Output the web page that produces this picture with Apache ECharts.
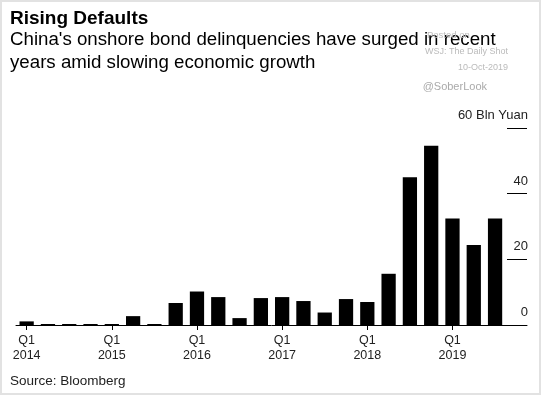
<!DOCTYPE html>
<html>
<head>
<meta charset="utf-8">
<script src="https://cdn.jsdelivr.net/npm/echarts@6/dist/echarts.min.js"></script>
<style>
html,body{margin:0;padding:0;background:#fff;}
#c{width:541px;height:395px;}
</style>
</head>
<body>
<div id="c"></div>
<script>
var quarters = ["Q1 2014","Q2 2014","Q3 2014","Q4 2014","Q1 2015","Q2 2015","Q3 2015","Q4 2015",
  "Q1 2016","Q2 2016","Q3 2016","Q4 2016","Q1 2017","Q2 2017","Q3 2017","Q4 2017",
  "Q1 2018","Q2 2018","Q3 2018","Q4 2018","Q1 2019","Q2 2019","Q3 2019","Q4 2019"];
var defaults = [1.1,0.3,0.3,0.3,0.3,2.7,0.3,6.7,
  10.2,8.5,2.1,8.2,8.5,7.3,3.8,7.9,
  7.0,15.6,45.0,54.6,32.4,24.4,32.4,null];
var yTicks = [0,20,40,60];
var yUnit = "Bln Yuan";
var titleText = "Rising Defaults";
var subtitleLines = ["China's onshore bond delinquencies have surged in recent","years amid slowing economic growth"];
var sourceText = "Source: Bloomberg";
var watermark = ["Posted on","WSJ: The Daily Shot","10-Oct-2019","@SoberLook"];

function xLabel(q){
  var p = q.split(" ");
  return p[0] === "Q1" ? p[0] + "\n" + p[1] : "";
}

var chart = echarts.init(document.getElementById('c'));
var font = "'Liberation Sans', Arial, sans-serif";
chart.setOption({
  animation:false,
  backgroundColor:'#fff',
  textStyle:{fontFamily:font},
  grid:{left:16,right:14,top:128,bottom:70},
  xAxis:{
    type:'category',
    data:quarters,
    axisLine:{lineStyle:{color:'#000',width:1}},
    axisTick:{show:true,alignWithLabel:true,length:5,lineStyle:{color:'#000'},
      interval:function(i,v){return v.indexOf("Q1")===0;}},
    axisLabel:{interval:0,formatter:function(v){return xLabel(v);},color:'#222',fontSize:12.5,lineHeight:15,margin:8,fontFamily:font}
  },
  yAxis:{
    type:'value',
    position:'right',
    min:yTicks[0],max:yTicks[yTicks.length-1],interval:20,
    splitLine:{show:false},
    axisLine:{show:false},
    axisTick:{show:true,inside:true,length:20,lineStyle:{color:'#000',width:1}},
    axisLabel:{inside:true,margin:-1,color:'#222',fontSize:13,fontFamily:font,
      verticalAlign:'bottom',padding:[0,0,6,0],
      formatter:function(v){return v===yTicks[yTicks.length-1] ? v+" "+yUnit : String(v);}}
  },
  series:[{
    type:'bar',
    data:defaults,
    barWidth:'67%',
    itemStyle:{color:'#000'}
  }],
  graphic:[
    {type:'rect',shape:{x:1,y:1,width:539,height:393},style:{fill:'none',stroke:'#e2e2e2',lineWidth:2},silent:true},
    {type:'text',left:10,top:9,style:{text:titleText,fontSize:19,fontWeight:'bold',fill:'#000',fontFamily:font}},
    {type:'text',left:10,top:30,style:{text:subtitleLines[0],fontSize:18.7,fill:'#000',fontFamily:font}},
    {type:'text',left:10,top:53,style:{text:subtitleLines[1],fontSize:18.7,fill:'#000',fontFamily:font}},
    {type:'text',x:427,y:35,style:{text:watermark[0],fontSize:9.5,fill:'#bbb',fontFamily:font,verticalAlign:'middle'}},
    {type:'text',x:508,y:52,style:{text:watermark[1],fontSize:9,fill:'#bbb',fontFamily:font,align:'right',verticalAlign:'middle'}},
    {type:'text',x:508,y:68,style:{text:watermark[2],fontSize:9,fill:'#bbb',fontFamily:font,align:'right',verticalAlign:'middle'}},
    {type:'text',x:487,y:87,style:{text:watermark[3],fontSize:11,fill:'#aaa',fontFamily:font,align:'right',verticalAlign:'middle'}},
    {type:'text',x:10,y:381,style:{text:sourceText,fontSize:13.5,fill:'#222',fontFamily:font,verticalAlign:'middle'}}
  ]
});
</script>
</body>
</html>
